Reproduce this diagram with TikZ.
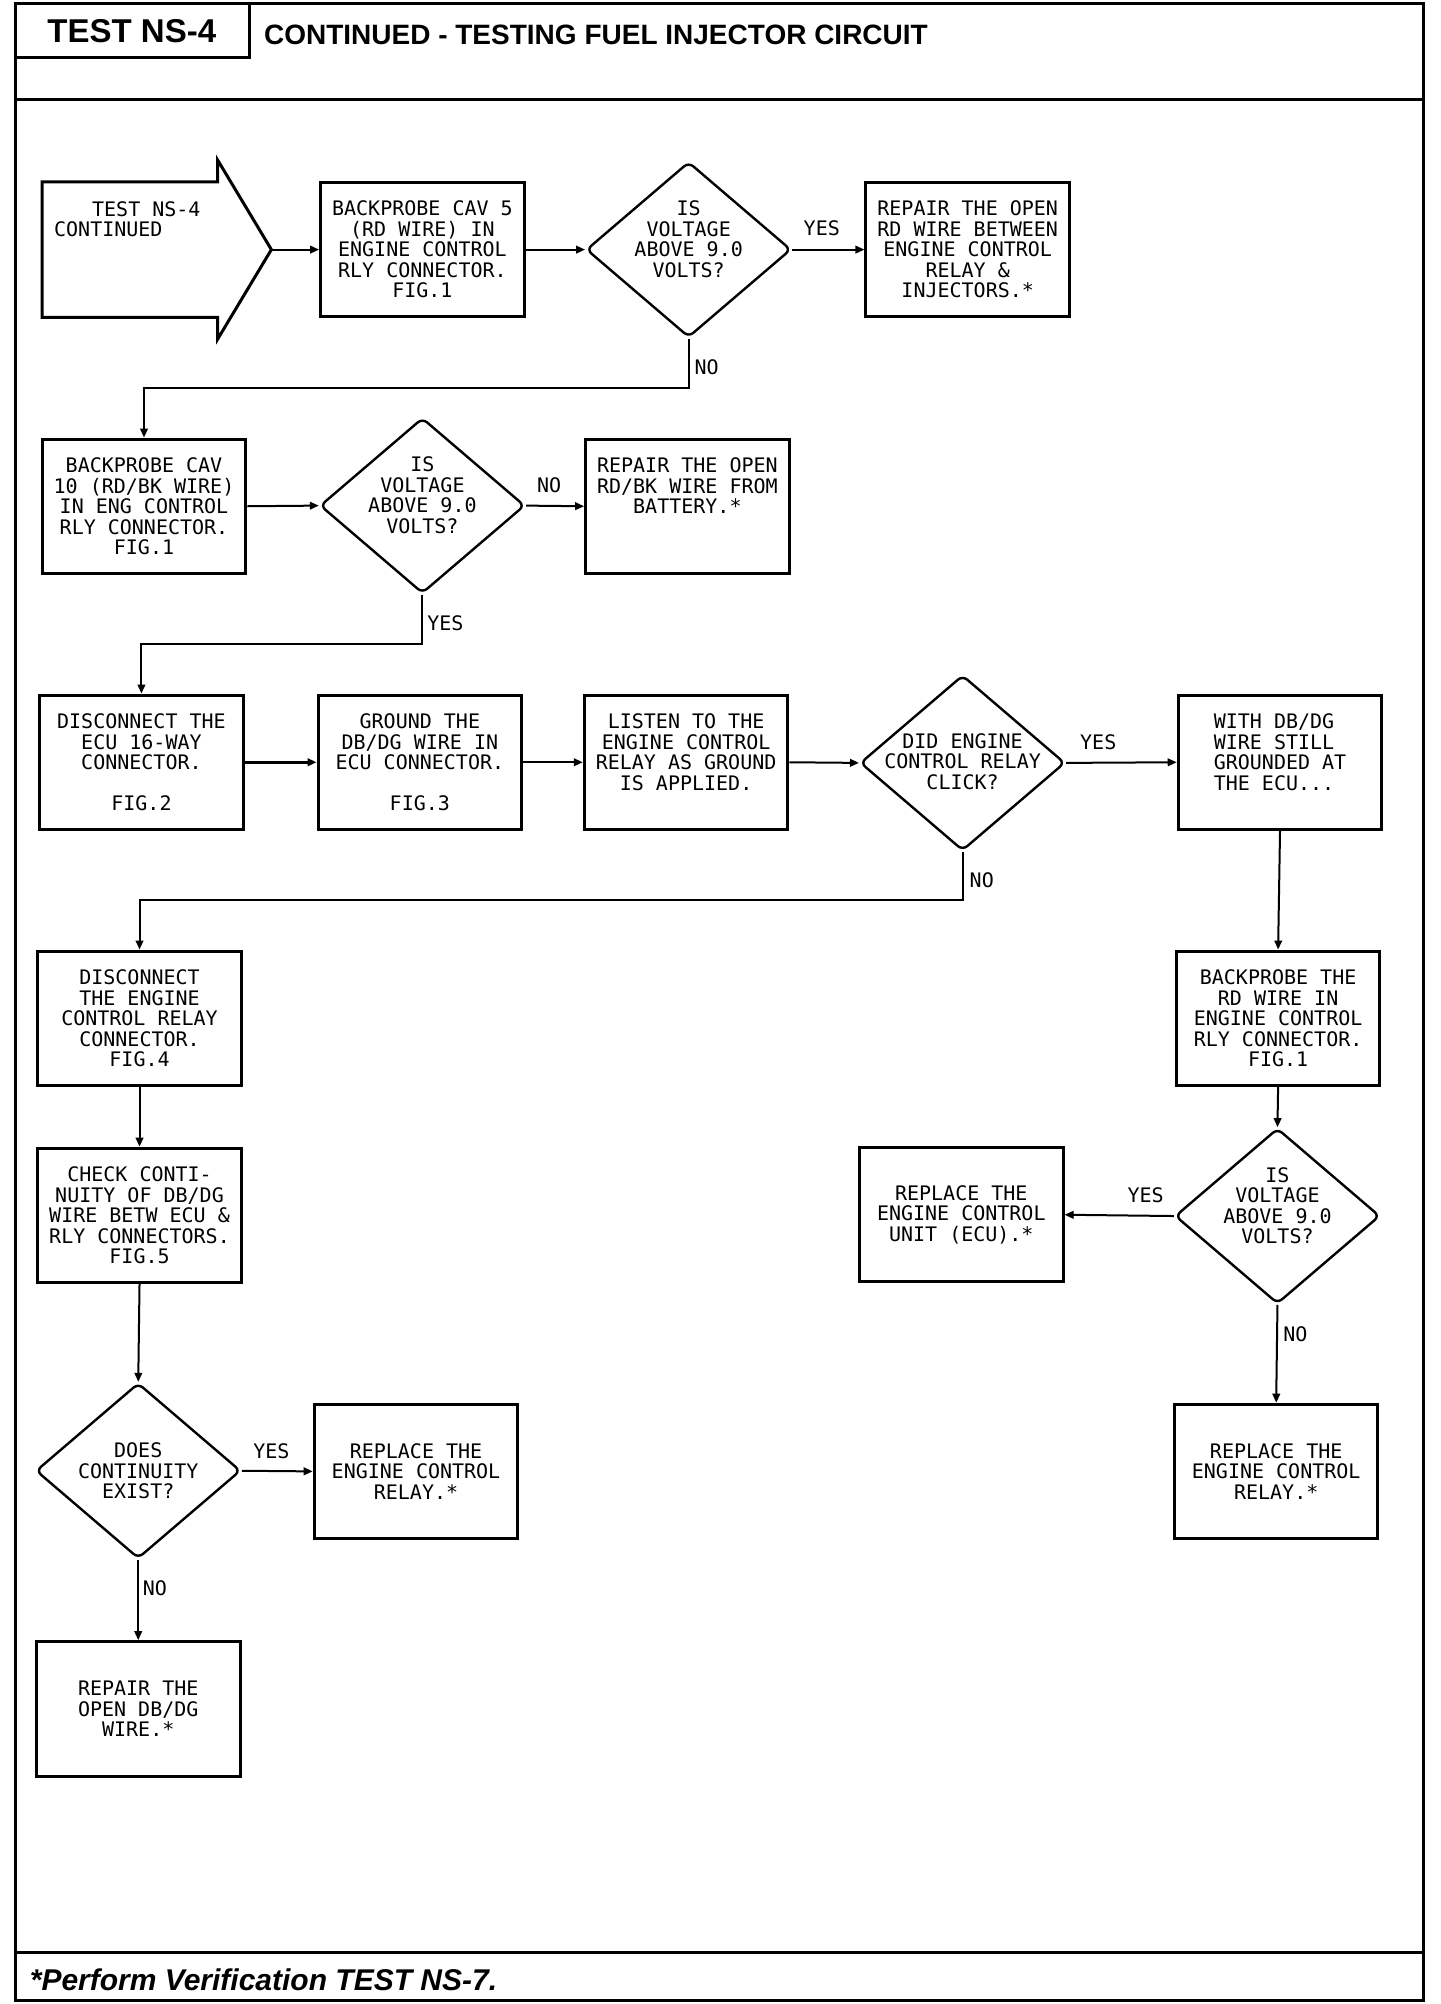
\documentclass[tikz,border=0pt]{standalone}
\usepackage{fontspec}
\setmainfont{Liberation Sans}
\newfontfamily\plotfont{DejaVu Sans Mono}
\usetikzlibrary{arrows.meta,shapes.geometric}
\newcommand\ptxt{\plotfont\fontsize{10}{10.24}\selectfont}
\tikzset{
  frame/.style={line width=1.5pt},
  box/.style={draw,line width=1.5pt,minimum width=101.8pt,minimum height=67.2pt,inner sep=0pt,font=\ptxt,align=center},
  dia/.style={draw,shape=diamond,line width=1.2pt,minimum width=102.4pt,minimum height=87.7pt,inner sep=0pt,rounded corners=3pt},
  dtxt/.style={font=\ptxt,align=center,inner sep=0pt},
  conn/.style={line width=1pt,-{Triangle[length=4.5pt,width=3.8pt]}},
  lbl/.style={font=\ptxt,inner sep=0pt},
}
\begin{document}
\begin{tikzpicture}[x=0.64pt,y=-0.64pt]
\useasboundingbox (0,0) rectangle (1125,1565.6);
% frame
\draw[frame] (12,3) rectangle (1112,1563);
\draw[frame] (12,78) -- (1112,78);
\draw[frame] (12,1525) -- (1112,1525);
\draw[frame] (12,3) rectangle (195,45);
\node[font=\fontsize{16.5}{18}\selectfont\bfseries,inner sep=0pt] (title) at (103,24) {TEST NS-4};
\node[font=\fontsize{14}{16}\selectfont\bfseries,anchor=west,inner sep=0pt] (head) at (206,27) {CONTINUED - TESTING FUEL INJECTOR CIRCUIT};
\node[font=\fontsize{15}{17}\selectfont\bfseries\itshape,anchor=west,inner sep=0pt] (foot) at (23,1547) {*Perform Verification TEST NS-7.};

% start arrow
\draw[line width=1.5pt] (33,142) -- (170,142) -- (170,125) -- (212,195) -- (170,265) -- (170,248) -- (33,248) -- cycle;
\coordinate (sttip) at (212,195);
\node[font=\ptxt,align=left,anchor=north west,inner sep=0pt] (sttext) at (42,157) {\hspace*{19pt}TEST NS-4\\CONTINUED};

% row 1
\node[box] (b1) at (330,195) {BACKPROBE CAV 5\\(RD WIRE) IN\\ENGINE CONTROL\\RLY CONNECTOR.\\FIG.1};
\node[dia] (d1) at (538,195) {};
\node[dtxt] (d1t) at (538,187) {IS\\VOLTAGE\\ABOVE 9.0\\VOLTS?};
\node[box] (r1) at (756,195) {REPAIR THE OPEN\\RD WIRE BETWEEN\\ENGINE CONTROL\\RELAY \&\\INJECTORS.*};

% row 2
\node[box] (b2) at (112.5,395.5) {BACKPROBE CAV\\10 (RD/BK WIRE)\\IN ENG CONTROL\\RLY CONNECTOR.\\FIG.1};
\node[dia] (d2) at (330,395) {};
\node[dtxt] (d2t) at (330,387) {IS\\VOLTAGE\\ABOVE 9.0\\VOLTS?};
\node[box] (r2) at (537,395.5) {REPAIR THE OPEN\\RD/BK WIRE FROM\\BATTERY.*\\\mbox{}\\\mbox{}};

% row 3
\node[box] (b3) at (110.5,595.5) {DISCONNECT THE\\ECU 16-WAY\\CONNECTOR.\\[10.24pt]FIG.2};
\node[box] (b4) at (328,595.5) {GROUND THE\\DB/DG WIRE IN\\ECU CONNECTOR.\\[10.24pt]FIG.3};
\node[box] (b5) at (536,595.5) {LISTEN TO THE\\ENGINE CONTROL\\RELAY AS GROUND\\IS APPLIED.\\\mbox{}};
\node[dia] (d3) at (752,596) {};
\node[dtxt] (d3t) at (752,595) {DID ENGINE\\CONTROL RELAY\\CLICK?};
\node[box,align=left] (b6) at (1000,595.5) {WITH DB/DG\\WIRE STILL\\GROUNDED AT\\THE ECU...\\\mbox{}};

% row 4
\node[box] (b7) at (109,795.5) {DISCONNECT\\THE ENGINE\\CONTROL RELAY\\CONNECTOR.\\FIG.4};
\node[box] (b8) at (998.5,795.5) {BACKPROBE THE\\RD WIRE IN\\ENGINE CONTROL\\RLY CONNECTOR.\\FIG.1};

% row 5
\node[box] (b9) at (109,949.5) {CHECK CONTI-\\NUITY OF DB/DG\\WIRE BETW ECU \&\\RLY CONNECTORS.\\FIG.5};
\node[dia] (d4) at (998,950) {};
\node[dtxt] (d4t) at (998,942) {IS\\VOLTAGE\\ABOVE 9.0\\VOLTS?};
\node[box] (b10) at (751,949) {REPLACE THE\\ENGINE CONTROL\\UNIT (ECU).*};

% row 6
\node[dia] (d5) at (108,1149) {};
\node[dtxt] (d5t) at (108,1149) {DOES\\CONTINUITY\\EXIST?};
\node[box] (b12) at (325,1149.5) {REPLACE THE\\ENGINE CONTROL\\RELAY.*};
\node[box] (b11) at (997,1149.5) {REPLACE THE\\ENGINE CONTROL\\RELAY.*};
\node[box] (b13) at (108,1335) {REPAIR THE\\OPEN DB/DG\\WIRE.*};

% junction levels
\coordinate (j1) at (0,303);
\coordinate (j2) at (0,503);
\coordinate (j3) at (0,703);

% connectors
\draw[conn] (sttip) -- (b1.west);
\draw[conn] (b1.east) -- (d1.west);
\draw[conn] (d1.east) -- (r1.west);
\draw[conn] (d1.south) -- (d1.south |- j1) -| (b2.north);
\draw[conn] (b2.east) -- (d2.west);
\draw[conn] (d2.east) -- (r2.west);
\draw[conn] (d2.south) -- (d2.south |- j2) -| (b3.north);
\draw[conn,line width=1.6pt] (b3.east) -- (b4.west);
\draw[conn] (b4.east) -- (b5.west);
\draw[conn] (b5.east) -- (d3.west);
\draw[conn] (d3.east) -- (b6.west);
\draw[conn] (d3.south) -- (d3.south |- j3) -| (b7.north);
\draw[conn] (b6.south) -- (b8.north);
\draw[conn] (b7.south) -- (b9.north);
\draw[conn] (b8.south) -- (d4.north);
\draw[conn] (d4.west) -- (b10.east);
\draw[conn] (d4.south) -- (b11.north);
\draw[conn] (b9.south) -- (d5.north);
\draw[conn] (d5.east) -- (b12.west);
\draw[conn] (d5.south) -- (b13.north);

% labels
\node[lbl] (l1) at (642,178) {YES};
\node[lbl] (l2) at (552,287) {NO};
\node[lbl] (l3) at (429,379) {NO};
\node[lbl] (l4) at (348,487) {YES};
\node[lbl] (l5) at (858,580) {YES};
\node[lbl] (l6) at (767,688) {NO};
\node[lbl] (l7) at (895,934) {YES};
\node[lbl] (l8) at (1012,1042) {NO};
\node[lbl] (l9) at (212,1134) {YES};
\node[lbl] (l10) at (121,1241) {NO};
\end{tikzpicture}
\end{document}
